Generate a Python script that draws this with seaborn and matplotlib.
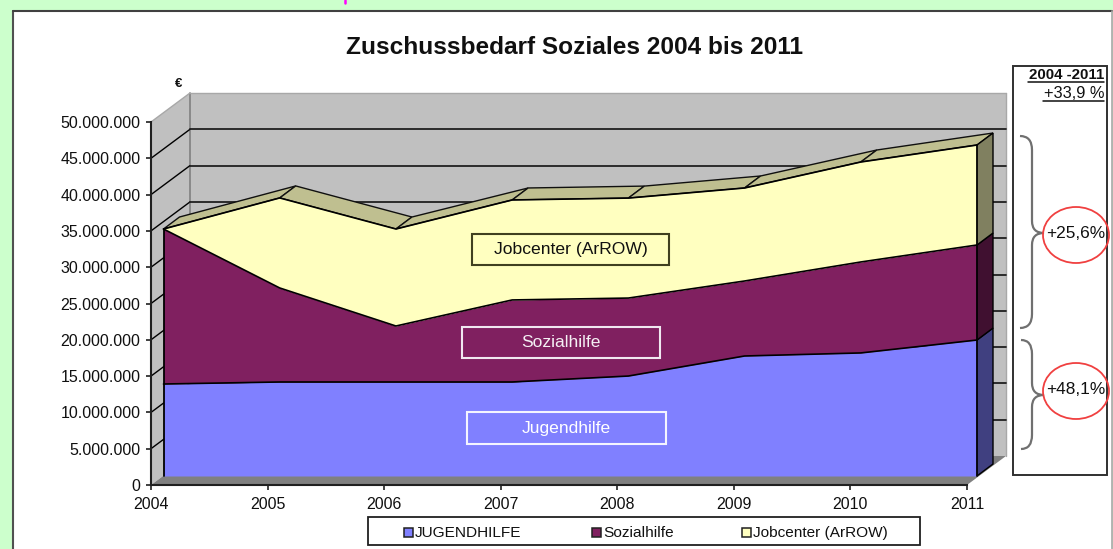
import numpy as np
import pandas as pd
import matplotlib
matplotlib.use("Agg")
import matplotlib.pyplot as plt
import seaborn as sns
from matplotlib.patches import Ellipse, PathPatch, Rectangle
from matplotlib.path import Path
from matplotlib.transforms import Affine2D, IdentityTransform

years = [2004, 2005, 2006, 2007, 2008, 2009, 2010, 2011]
jugendhilfe = [12670000, 12950000, 12950000, 12950000, 13770000, 16530000, 16950000, 18730000]
sozialhilfe = [21350000, 12950000, 7710000, 11300000, 10740000, 10330000, 12530000, 13090000]
jobcenter = [0, 12400000, 13360000, 13770000, 13770000, 12810000, 13770000, 13770000]
y_ticks = [0, 5000000, 10000000, 15000000, 20000000, 25000000, 30000000, 35000000, 40000000, 45000000, 50000000]

W, H = 1113, 549
FRONT = (12.5, 9)
BACK = (28.5, 21)
WALL = (39, 29)
X_LEFT = 151
X_SQUEEZE = 813.5 / 816  # stack sits on a slightly narrower plane than the axis

sns.set_theme(style="white")
plt.rcParams["font.family"] = ["Liberation Sans", "DejaVu Sans"]

fig = plt.figure(figsize=(W / 100, H / 100), dpi=100, facecolor="#CCFFCC")

# pixel axes for the panel frame, drawn first
bg = fig.add_axes([0, 0, 1, 1], zorder=0)
bg.set_xlim(0, W)
bg.set_ylim(H, 0)
bg.axis("off")
bg.add_patch(Rectangle((13, 11), 1099, 545, fc="white", ec="none"))
bg.plot([13, 13], [H, 11], color="#505050", lw=1.5)
bg.plot([13, 1112], [11, 11], color="#404040", lw=1.5)
bg.plot([1112, 1112], [11, H], color="#A8A8A8", lw=1.2)
bg.plot([344.5, 344.5], [0, 3], color="#FF00FF", lw=1.8)

ax = fig.add_axes([X_LEFT / W, (H - 485) / H, (967 - X_LEFT) / W, (485 - 122) / H], zorder=1)
ax.patch.set_alpha(0)
ax.set_xlim(2004, 2011)
ax.set_ylim(0, 50000000)

df = pd.DataFrame({"year": years, "jugend": jugendhilfe, "sozial": sozialhilfe, "job": jobcenter})
df["t1"] = df["jugend"]
df["t2"] = df["t1"] + df["sozial"]
df["t3"] = df["t2"] + df["job"]

front = ax.transData + Affine2D().translate(-X_LEFT, 0).scale(X_SQUEEZE, 1).translate(X_LEFT, 0).translate(*FRONT)
disp = IdentityTransform()


def pt(x, y, off=(0, 0)):
    p = ax.transData.transform((x, y))
    px = p[0]
    if off in (FRONT, BACK):
        px = X_LEFT + (px - X_LEFT) * X_SQUEEZE
    return (px + off[0], p[1] + off[1])


def poly(points, fc, ec="none", lw=0.0, z=1.0):
    ax.fill(*zip(*points), facecolor=fc, edgecolor=ec, linewidth=lw,
            transform=disp, clip_on=False, zorder=z)


def seg(a, b, color="black", lw=1.2, z=1.5):
    ax.plot([a[0], b[0]], [a[1], b[1]], color=color, lw=lw,
            transform=disp, clip_on=False, zorder=z)


# ── walls and floor ───────────────────────────────────────────
poly([pt(2004, 0), pt(2004, 0, WALL), pt(2004, 50000000, WALL), pt(2004, 50000000)], "#C0C0C0", z=1)
poly([pt(2004, 0, WALL), pt(2011, 0, WALL), pt(2011, 50000000, WALL), pt(2004, 50000000, WALL)], "#C0C0C0", z=1)
poly([pt(2004, 0), pt(2011, 0), pt(2011, 0, WALL), pt(2004, 0, WALL)], "#808080", z=1.1)
seg(pt(2004, 0, WALL), pt(2004, 50000000, WALL), color="#808080", lw=1.2, z=1.2)
seg(pt(2004, 50000000), pt(2004, 50000000, WALL), color="#A8A8A8", lw=1.0, z=1.2)
seg(pt(2004, 50000000, WALL), pt(2011, 50000000, WALL), color="#A8A8A8", lw=1.0, z=1.2)
seg(pt(2011, 50000000, WALL), pt(2011, 0, WALL), color="#A8A8A8", lw=1.0, z=1.2)
for v in y_ticks[1:-1]:
    seg(pt(2004, v), pt(2004, v, WALL), lw=1.0)
    seg(pt(2004, v, WALL), pt(2011, v, WALL), color="#202020", lw=1.3)

# ── top faces and right side of the stack ─────────────────────
for i in range(len(years) - 1):
    a, b = years[i], years[i + 1]
    poly([pt(a, df.t3[i], FRONT), pt(b, df.t3[i + 1], FRONT),
          pt(b, df.t3[i + 1], BACK), pt(a, df.t3[i], BACK)],
         "#BFBF90", ec="#101010", lw=1.0, z=2)

poly([pt(2011, 0, FRONT), pt(2011, 0, BACK), pt(2011, df.t1[7], BACK), pt(2011, df.t1[7], FRONT)],
     "#404080", ec="black", lw=1.0, z=2.1)
poly([pt(2011, df.t1[7], FRONT), pt(2011, df.t1[7], BACK), pt(2011, df.t2[7], BACK), pt(2011, df.t2[7], FRONT)],
     "#401030", ec="black", lw=1.0, z=2.1)
poly([pt(2011, df.t2[7], FRONT), pt(2011, df.t2[7], BACK), pt(2011, df.t3[7], BACK), pt(2011, df.t3[7], FRONT)],
     "#808060", ec="black", lw=1.0, z=2.1)

# ── front faces ───────────────────────────────────────────────
ax.fill_between(years, 0, df.t1, color="#8080FF", lw=0, transform=front, clip_on=False, zorder=3)
ax.fill_between(years, df.t1, df.t2, color="#802060", lw=0, transform=front, clip_on=False, zorder=3)
ax.fill_between(years, df.t2, df.t3, color="#FFFFC0", lw=0, transform=front, clip_on=False, zorder=3)
for col in ["t1", "t2", "t3"]:
    sns.lineplot(data=df, x="year", y=col, color="black", lw=1.2, ax=ax, transform=front,
                 clip_on=False, zorder=3.2, errorbar=None)
seg(pt(2004, 0, FRONT), pt(2004, df.t3[0], FRONT), lw=1.3, z=3.3)
seg(pt(2011, 0, FRONT), pt(2011, df.t3[7], FRONT), lw=1.3, z=3.3)

# ── axes ──────────────────────────────────────────────────────
ax.set_xlim(2004, 2011)
ax.set_ylim(0, 50000000)
ax.set_xlabel("")
ax.set_ylabel("")
ax.set_xticks(years)
ax.set_yticks(y_ticks)
ax.set_yticklabels([f"{v:,}".replace(",", ".") for v in y_ticks])
ax.tick_params(axis="both", direction="out", length=3.6, width=1.2, color="#202020",
               labelsize=11.5, labelcolor="#101010", left=True, bottom=True, pad=4)
ax.tick_params(axis="x", pad=5)
sns.despine(ax=ax)
for side in ["left", "bottom"]:
    ax.spines[side].set_color("#202020")
    ax.spines[side].set_linewidth(1.5)
    ax.spines[side].set_zorder(4)

# ── annotations in pixel coordinates ──────────────────────────
ov = fig.add_axes([0, 0, 1, 1], zorder=2)
ov.patch.set_alpha(0)
ov.set_xlim(0, W)
ov.set_ylim(H, 0)
ov.axis("off")

ov.text(574, 47, "Zuschussbedarf Soziales 2004 bis 2011", ha="center", va="center",
        fontsize=17.6, fontweight="bold", color="#101010")
ov.text(179, 84, "€", ha="center", va="center", fontsize=9.5, fontweight="bold", color="#101010")


def label_box(x0, y0, x1, y1, txt, ec, fc="none", tc="#101010"):
    ov.add_patch(Rectangle((x0, y0), x1 - x0, y1 - y0, fc=fc, ec=ec, lw=1.5))
    ov.text((x0 + x1) / 2, (y0 + y1) / 2, txt, ha="center", va="center", fontsize=12.6, color=tc)


label_box(472, 234, 669, 265, "Jobcenter (ArROW)", "#404020")
label_box(462, 327, 660, 358, "Sozialhilfe", "#F0E8F0", tc="#F4F0F4")
label_box(467, 412, 666, 444, "Jugendhilfe", "#F4F4FF", tc="#FFFFFF")

# right hand info box
ov.add_patch(Rectangle((1013, 66), 94, 409, fc="white", ec="#303030", lw=1.4))
ov.text(1104, 75, "2004 -2011", ha="right", va="center", fontsize=10.8, fontweight="bold", color="#101010")
ov.plot([1028, 1104], [82, 82], color="#101010", lw=1.1)
ov.text(1104, 94, "+33,9 %", ha="right", va="center", fontsize=11.8, color="#101010")
ov.plot([1043, 1104], [101, 101], color="#101010", lw=1.1)


def brace(x0, xm, xt, y0, ym, y1):
    verts = [(x0, y0), (xm, y0), (xm, y0 + 14),
             (xm, ym - 12), (xm, ym), (xt, ym),
             (xm, ym), (xm, ym + 12),
             (xm, y1 - 14), (xm, y1), (x0, y1)]
    codes = [Path.MOVETO, Path.CURVE3, Path.CURVE3,
             Path.LINETO, Path.CURVE3, Path.CURVE3,
             Path.CURVE3, Path.CURVE3,
             Path.LINETO, Path.CURVE3, Path.CURVE3]
    ov.add_patch(PathPatch(Path(verts, codes), fc="none", ec="#707070", lw=1.6))


brace(1020, 1032, 1044, 136, 233, 328)
brace(1021, 1032, 1044, 340, 395, 449)

for cy, txt in [(235, "+25,6%"), (391, "+48,1%")]:
    ov.add_patch(Ellipse((1076, cy), 66, 56, fc="none", ec="#F04040", lw=1.3))
    ov.text(1076, cy - 1, txt, ha="center", va="center", fontsize=12.4, color="#101010")

# legend
ov.add_patch(Rectangle((368, 517), 552, 28, fc="white", ec="#202020", lw=1.3))
for mx, col, txt in [(408, "#8080FF", "JUGENDHILFE"), (596, "#802060", "Sozialhilfe"),
                     (746, "#FFFFC0", "Jobcenter (ArROW)")]:
    ov.add_patch(Rectangle((mx - 4.5, 527.5), 9, 9, fc=col, ec="#202020", lw=1.1))
    ov.text(mx + 7, 533, txt, ha="left", va="center", fontsize=11.1, color="#101010")

fig.savefig("out.png", dpi=100, facecolor=fig.get_facecolor())
plt.close(fig)
